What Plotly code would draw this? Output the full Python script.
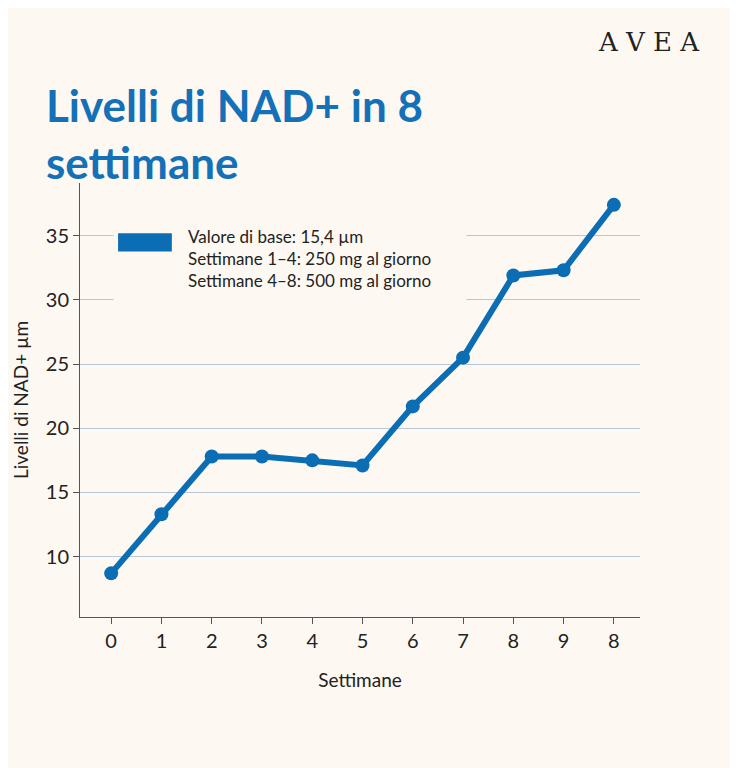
import plotly.graph_objects as go

# week index and NAD+ levels
weeks = [0, 1, 2, 3, 4, 5, 6, 7, 8, 9, 10]
week_labels = ["0", "1", "2", "3", "4", "5", "6", "7", "8", "9", "8"]
nad_levels = [8.7, 13.3, 17.8, 17.8, 17.5, 17.1, 21.7, 25.5, 31.9, 32.3, 37.4]
y_ticks = [10, 15, 20, 25, 30, 35]
legend_lines = ["Valore di base: 15,4 µm",
                "Settimane 1–4: 250 mg al giorno",
                "Settimane 4–8: 500 mg al giorno"]

blue = "#0b6db3"
bg = "#fdf9f2"
font = "Lato"

fig = go.Figure()
fig.add_trace(go.Scatter(x=weeks, y=nad_levels, mode="lines+markers",
                         line=dict(color=blue, width=6),
                         marker=dict(color=blue, size=14),
                         showlegend=False))

fig.update_layout(
    width=738, height=768,
    paper_bgcolor=bg, plot_bgcolor=bg,
    margin=dict(l=72, r=106, t=175, b=159),
    font=dict(family=font, color="#222222"),
    xaxis=dict(range=[-0.62, 10.52], tickvals=weeks, ticktext=week_labels,
               showgrid=False, showline=True, linecolor="#555555", linewidth=1,
               ticks="outside", ticklen=6, tickcolor="#555555",
               tickfont=dict(size=20), zeroline=False,
               title=dict(text="Settimane", font=dict(size=19), standoff=22)),
    yaxis=dict(range=[5.3, 39.1], tickvals=y_ticks,
               showgrid=True, gridcolor="#b9c8d8", gridwidth=1,
               showline=True, linecolor="#555555", linewidth=1,
               ticks="outside", ticklen=6, tickcolor="#555555",
               tickfont=dict(size=20), zeroline=False,
               title=dict(text="Livelli di NAD+ µm", font=dict(size=19), standoff=12)),
)

# title and logo
fig.add_annotation(xref="paper", yref="paper", x=-0.065, y=1.245, xanchor="left", yanchor="top",
                   align="left", showarrow=False,
                   text="<b>Livelli di NAD+ in 8<br>settimane</b>",
                   font=dict(family=font, size=44, color="#1470b7"))
fig.add_annotation(xref="paper", yref="paper", x=1.11, y=1.325, xanchor="right", yanchor="middle",
                   showarrow=False, text="A V E A",
                   font=dict(family="DejaVu Serif", size=26, color="#222222"))

# legend box drawn manually
fig.add_shape(type="rect", xref="paper", yref="paper", x0=0.06, x1=0.69, y0=0.69, y1=0.92,
              fillcolor=bg, line=dict(width=0), layer="above")
fig.add_shape(type="rect", xref="paper", yref="paper", x0=0.068, x1=0.164, y0=0.842, y1=0.884,
              fillcolor=blue, line=dict(width=0), layer="above")
fig.add_annotation(xref="paper", yref="paper", x=0.19, y=0.905, xanchor="left", yanchor="top",
                   align="left", showarrow=False, text="<br>".join(legend_lines),
                   font=dict(family=font, size=17, color="#222222"))

fig.write_html("out.html")
